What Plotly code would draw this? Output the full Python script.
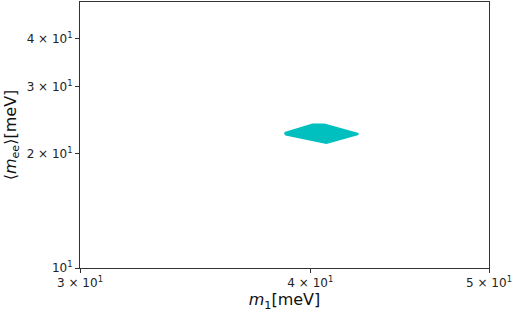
import plotly.graph_objects as go

# Allowed region outline in the (m1, <m_ee>) plane, in meV
m1_vals = [38.74, 40.11, 40.71, 42.47, 40.81, 38.80, 38.74]
mee_vals = [22.63, 23.82, 23.82, 22.50, 21.31, 22.40, 22.63]

x_ticks = [30, 40, 50]
x_ticktext = ["3 × 10<sup>1</sup>", "4 × 10<sup>1</sup>", "5 × 10<sup>1</sup>"]
y_ticks = [10, 20, 30, 40]
y_ticktext = ["10<sup>1</sup>", "2 × 10<sup>1</sup>", "3 × 10<sup>1</sup>", "4 × 10<sup>1</sup>"]

region_color = "#00BFBF"

fig = go.Figure()
fig.add_trace(go.Scatter(
    x=m1_vals, y=mee_vals,
    mode="lines", fill="toself",
    fillcolor=region_color,
    line=dict(color=region_color, width=2),
    hoverinfo="skip", showlegend=False,
))

axis_common = dict(
    type="log",
    showgrid=False, zeroline=False,
    showline=True, mirror=True, linecolor="#333333", linewidth=1,
    ticks="outside", ticklen=4, tickcolor="#333333",
    tickfont=dict(family="DejaVu Sans", size=12, color="#222222"),
    ticklabeloverflow="allow",
)

fig.update_layout(
    width=513, height=320,
    margin=dict(l=80, r=22, t=1, b=52),
    paper_bgcolor="white", plot_bgcolor="white",
    xaxis=dict(
        range=[1.4771213, 1.69897],
        tickvals=x_ticks, ticktext=x_ticktext,
        title=dict(text="<i>m</i><sub>1</sub>[meV]",
                   font=dict(family="DejaVu Sans", size=16, color="#111111"),
                   standoff=4),
        **axis_common,
    ),
    yaxis=dict(
        range=[1.0, 1.69897],
        tickvals=y_ticks, ticktext=y_ticktext,
        title=dict(text="⟨<i>m</i><sub>ee</sub>⟩[meV]",
                   font=dict(family="DejaVu Sans", size=16, color="#111111"),
                   standoff=6),
        **axis_common,
    ),
)

fig.write_html("out.html")
